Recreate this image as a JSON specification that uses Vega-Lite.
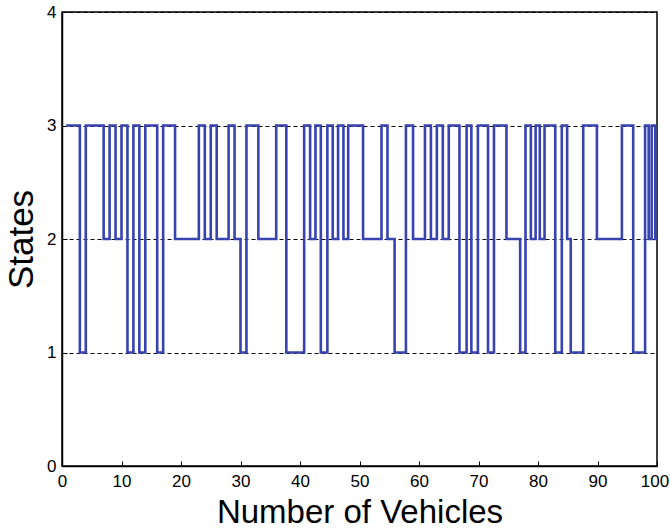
{
  "$schema": "https://vega.github.io/schema/vega-lite/v6.json",
  "width": 595,
  "height": 454,
  "autosize": {"type": "none"},
  "padding": {"left": 62, "top": 12, "right": 13, "bottom": 63},
  "background": "white",
  "config": {
    "view": {"stroke": "black", "strokeWidth": 1.5},
    "font": "Liberation Sans"
  },
  "data": {"values": [
    {"x": 0.7, "state": 3}, {"x": 3, "state": 1}, {"x": 4, "state": 3}, {"x": 7, "state": 2},
    {"x": 8, "state": 3}, {"x": 9, "state": 2}, {"x": 10, "state": 3}, {"x": 11, "state": 1},
    {"x": 12, "state": 3}, {"x": 13, "state": 1}, {"x": 14, "state": 3}, {"x": 16, "state": 1},
    {"x": 17, "state": 3}, {"x": 19, "state": 2}, {"x": 23, "state": 3}, {"x": 24, "state": 2},
    {"x": 25, "state": 3}, {"x": 26, "state": 2}, {"x": 28, "state": 3}, {"x": 29, "state": 2},
    {"x": 30, "state": 1}, {"x": 31, "state": 3}, {"x": 33, "state": 2}, {"x": 36, "state": 3},
    {"x": 37.7, "state": 1}, {"x": 40.7, "state": 3}, {"x": 41.7, "state": 2}, {"x": 42.6, "state": 3},
    {"x": 43.5, "state": 1}, {"x": 44.6, "state": 3}, {"x": 45.5, "state": 2}, {"x": 46.4, "state": 3},
    {"x": 47.3, "state": 2}, {"x": 48.1, "state": 3}, {"x": 50.6, "state": 2}, {"x": 53.7, "state": 3},
    {"x": 54.7, "state": 2}, {"x": 55.9, "state": 1}, {"x": 57.8, "state": 3}, {"x": 59, "state": 2},
    {"x": 61, "state": 3}, {"x": 62, "state": 2}, {"x": 63, "state": 3}, {"x": 64, "state": 2},
    {"x": 65, "state": 3}, {"x": 66.8, "state": 1}, {"x": 68, "state": 3}, {"x": 68.8, "state": 1},
    {"x": 69.9, "state": 3}, {"x": 71.6, "state": 1}, {"x": 72.6, "state": 3}, {"x": 74.7, "state": 2},
    {"x": 77, "state": 1}, {"x": 77.9, "state": 3}, {"x": 78.8, "state": 2}, {"x": 79.6, "state": 3},
    {"x": 80.3, "state": 2}, {"x": 81.1, "state": 3}, {"x": 82.9, "state": 1}, {"x": 84, "state": 3},
    {"x": 84.9, "state": 2}, {"x": 85.5, "state": 1}, {"x": 87.6, "state": 3}, {"x": 89.9, "state": 2},
    {"x": 94.1, "state": 3}, {"x": 96, "state": 1}, {"x": 98, "state": 3}, {"x": 98.6, "state": 2},
    {"x": 99.1, "state": 3}, {"x": 99.7, "state": 2}, {"x": 100, "state": 2}
  ]},
  "mark": {"type": "line", "interpolate": "step-after", "color": "#3843b0", "strokeWidth": 2.6, "clip": true},
  "encoding": {
    "x": {
      "field": "x", "type": "quantitative",
      "scale": {"domain": [0, 100], "nice": false, "zero": false},
      "axis": {
        "title": "Number of Vehicles", "titleFontSize": 33, "titleFontWeight": "normal", "titleColor": "black",
        "titlePadding": 7, "values": [0, 10, 20, 30, 40, 50, 60, 70, 80, 90, 100],
        "labelFontSize": 17, "labelColor": "black", "labelPadding": 12, "labelFlush": false,
        "labelOffset": {"condition": {"test": "datum.value == 100", "value": -2.5}, "value": 0},
        "tickSize": -5, "tickColor": "black", "domainColor": "black", "domainWidth": 1.5, "grid": false
      }
    },
    "y": {
      "field": "state", "type": "quantitative",
      "scale": {"domain": [0, 4], "nice": false},
      "axis": {
        "title": "States", "titleFontSize": 35, "titleFontWeight": "normal", "titleColor": "black",
        "titlePadding": 7, "values": [0, 1, 2, 3, 4],
        "labelFontSize": 17, "labelColor": "black", "labelPadding": 11, "labelFlush": false,
        "tickSize": -5, "tickColor": "black", "domainColor": "black", "domainWidth": 1.5,
        "grid": true, "gridColor": "black", "gridDash": [4, 3], "gridWidth": 1
      }
    }
  }
}
